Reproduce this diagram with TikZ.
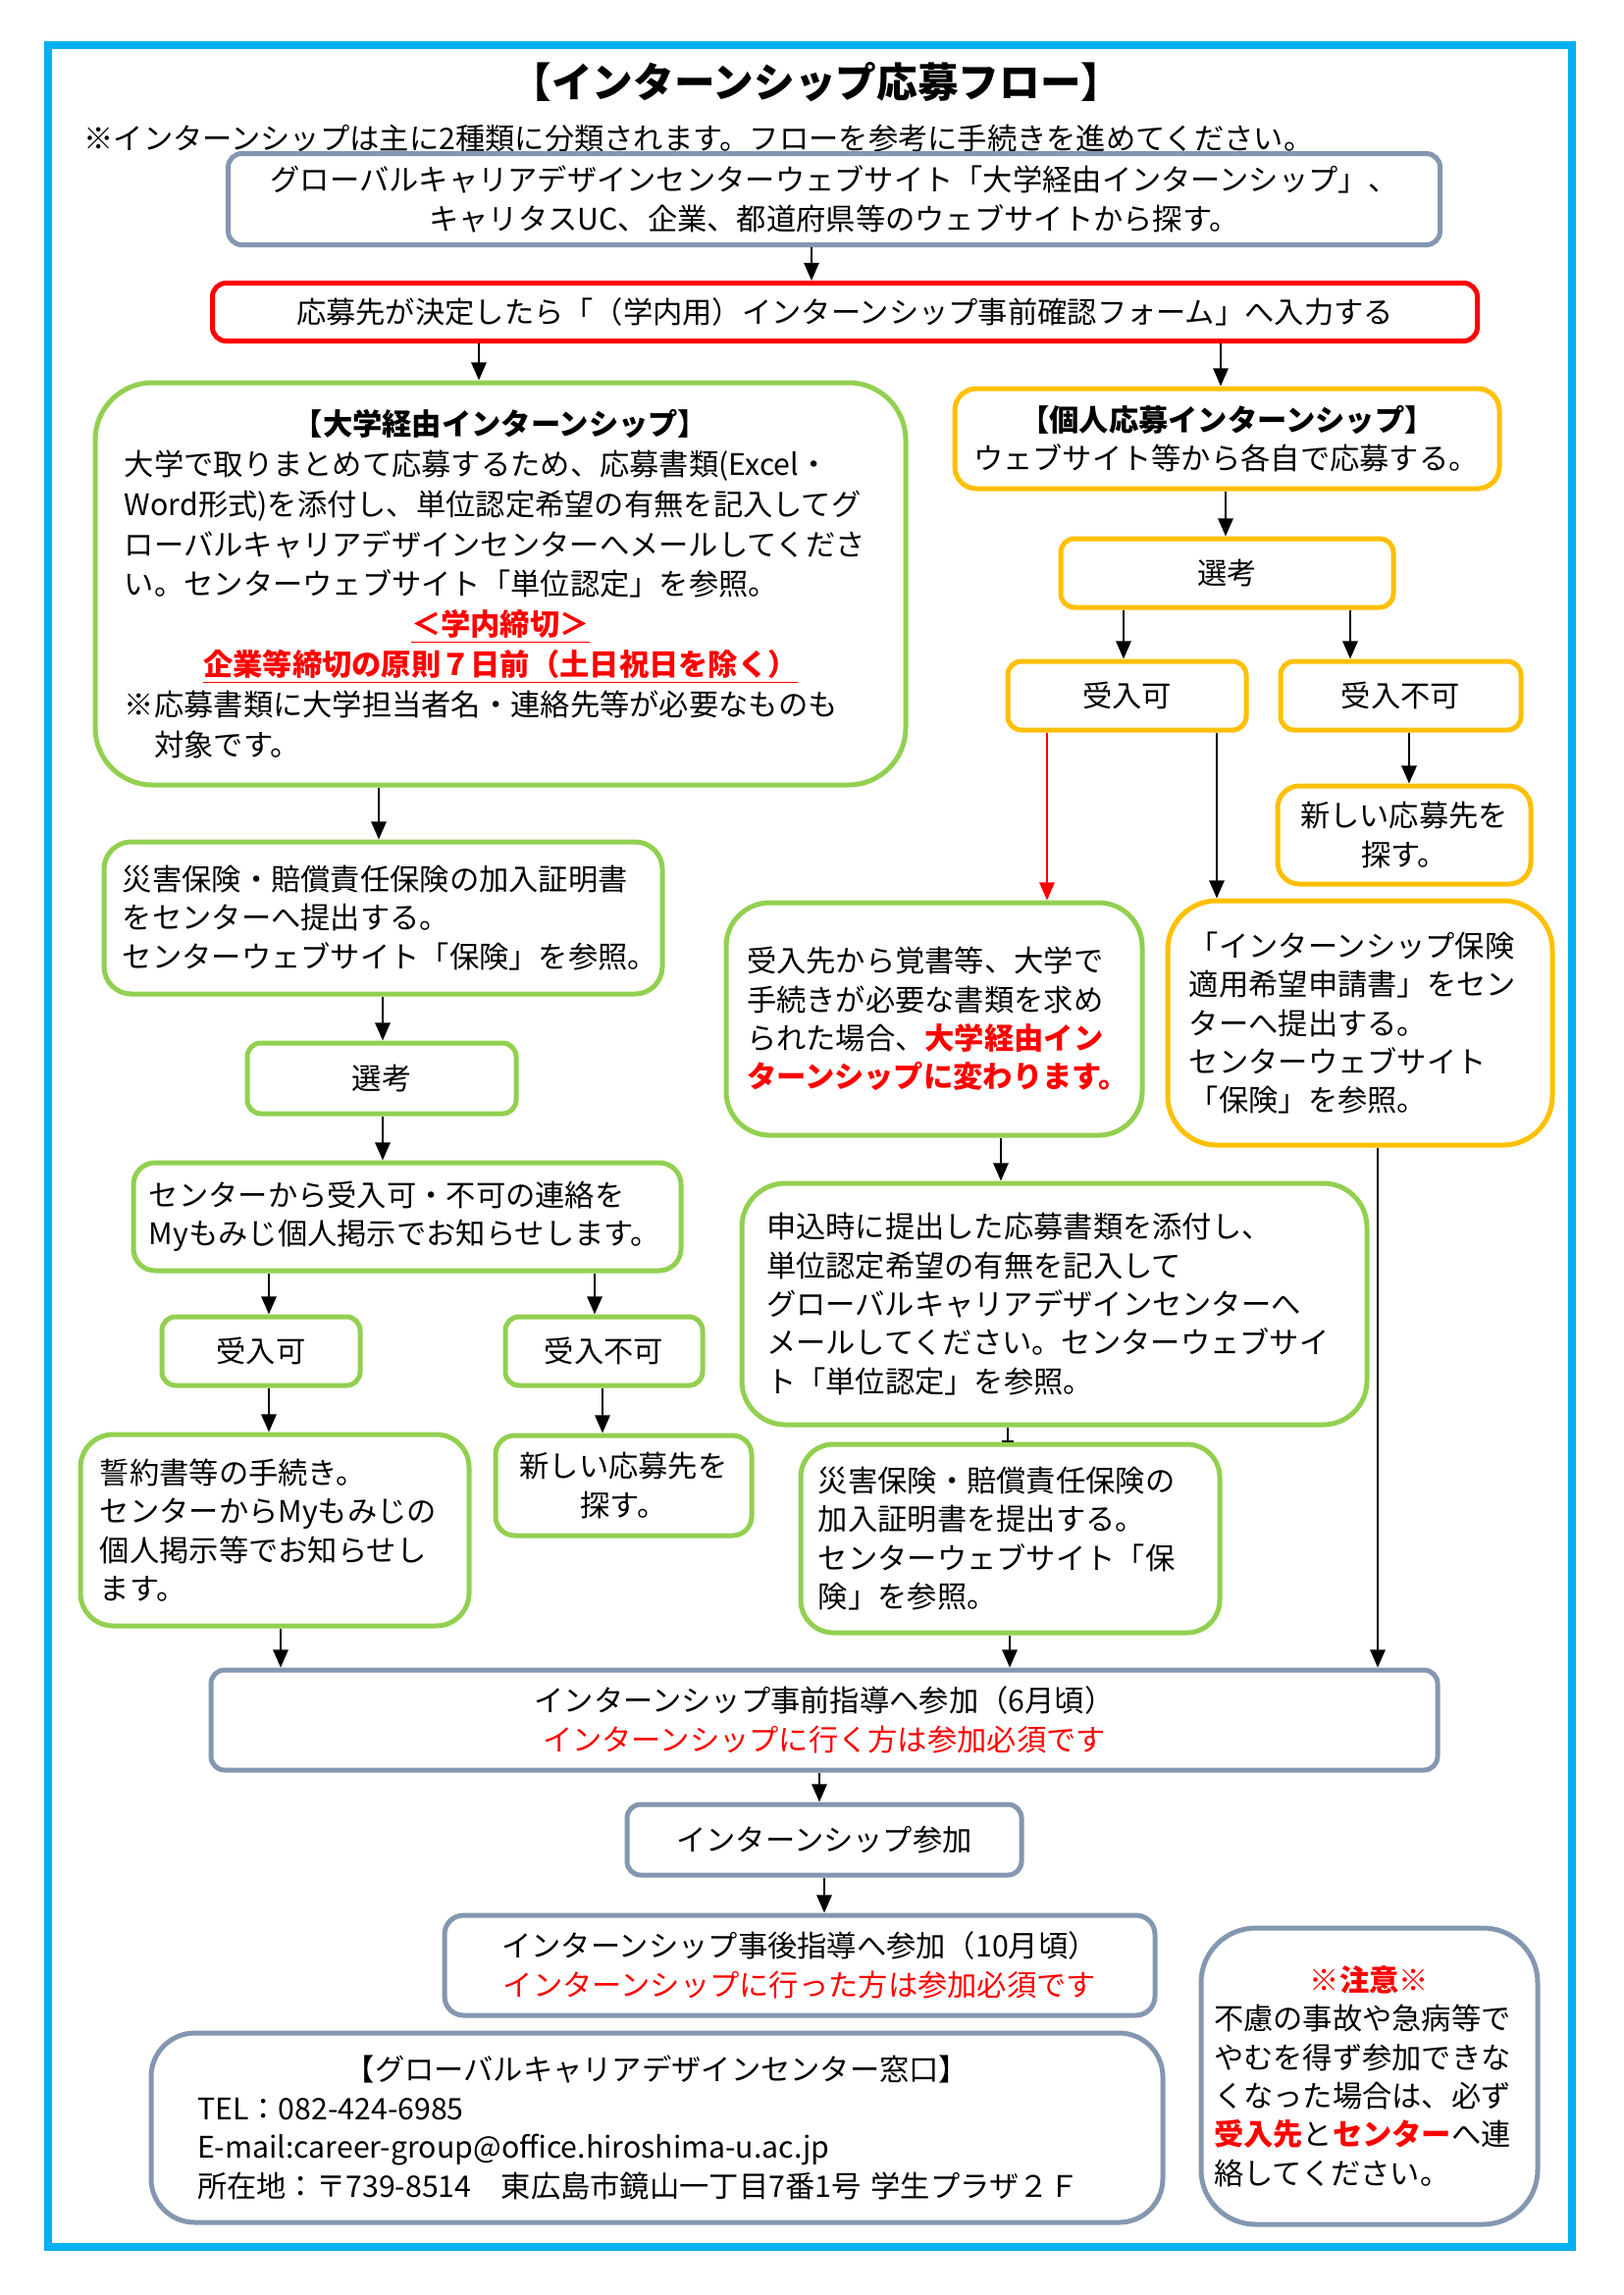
\documentclass[tikz,border=0pt]{standalone}
\usepackage{fontspec}
\setmainfont{Noto Sans CJK JP}
\usetikzlibrary{arrows.meta}
\definecolor{cblue}{HTML}{00B0F0}
\definecolor{cgreen}{HTML}{92D050}
\definecolor{cyellow}{HTML}{FFC000}
\definecolor{cgray}{HTML}{8497B0}
\definecolor{cred}{HTML}{FF0000}
\tikzset{
    outerframe/.style = {draw=cblue,
                    line width=3.2pt},
    boxbase/.style = {rectangle,
                    rounded corners=5pt,
                    fill=white,
                    text=black,
                    line width=1.8pt,
                    inner sep=0pt,
                    font=\fontsize{10.9pt}{14.2pt}\selectfont},
    gbox/.style =   {boxbase, draw=cgreen},
    ybox/.style =   {boxbase, draw=cyellow},
    bbox/.style =   {boxbase, draw=cgray},
    rbox/.style =   {boxbase, draw=cred},
    sz/.style 2 args = {minimum width=#1*0.36pt,
                    minimum height=#2*0.36pt},
    lft/.style =    {align=left, text width=#1},
    ctr/.style =    {align=center},
    ttl/.style =    {inner sep=0pt,
                    font=\fontsize{15pt}{18pt}\selectfont\bfseries},
    notetxt/.style = {inner sep=0pt,
                    anchor=west,
                    font=\fontsize{10.9pt}{14.2pt}\selectfont},
    -,
    arr/.style =    {-{Triangle[width=5.5pt,length=6.5pt]},
                    line width=0.7pt},
    bararr/.style = {-{Bar[width=4.5pt]},
                    line width=0.7pt}}

\begin{document}
\begin{tikzpicture}[x=0.36pt,y=-0.36pt]
\useasboundingbox (0,0) rectangle (1654,2339);
\draw[outerframe] (49,46) rectangle (1602,2290);

\node[ttl]      (title) at (832,84)     {【インターンシップ応募フロー】};
\node[notetxt]  (chuki) at (85,141)     {※インターンシップは主に2種類に分類されます。フローを参考に手続きを進めてください。};

\node[bbox, sz={1235}{93}, ctr]     (sagasu)  at (850,203)  {グローバルキャリアデザインセンターウェブサイト「大学経由インターンシップ」、\\キャリタスUC、企業、都道府県等のウェブサイトから探す。};
\node[rbox, sz={1289}{59}, ctr]     (kakunin) at (861,318)  {応募先が決定したら「（学内用）インターンシップ事前確認フォーム」へ入力する};

\node[gbox, sz={826}{410}, lft=275.8pt, rounded corners=21pt, font=\fontsize{10.9pt}{14.7pt}\selectfont] (daigaku) at (510,595) {%
\centerline{\bfseries 【大学経由インターンシップ】}\par
大学で取りまとめて応募するため、応募書類(Excel・\\
Word形式)を添付し、単位認定希望の有無を記入してグ\\
ローバルキャリアデザインセンターへメールしてくださ\\
い。センターウェブサイト「単位認定」を参照。\par
\centerline{\color{cred}\bfseries\underline{＜学内締切＞}}\par
\centerline{\color{cred}\bfseries\underline{企業等締切の原則７日前（土日祝日を除く）}}\par
※応募書類に大学担当者名・連絡先等が必要なものも\\
\hspace*{1em}対象です。};

\node[gbox, sz={569}{155}, lft=191.2pt, rounded corners=10pt] (hokenA) at (390.5,935.5) {災害保険・賠償責任保険の加入証明書\\をセンターへ提出する。\\センターウェブサイト「保険」を参照。};
\node[gbox, sz={274}{72}, ctr]      (senkoA)  at (389,1099) {選考};
\node[gbox, sz={558}{110}, lft=189.4pt, rounded corners=8pt] (renraku) at (415,1240) {センターから受入可・不可の連絡を\\Myもみじ個人掲示でお知らせします。};
\node[gbox, sz={202}{70}, ctr]      (kaA)     at (266,1377) {受入可};
\node[gbox, sz={201}{70}, ctr]      (fukaA)   at (615.5,1377) {受入不可};
\node[gbox, sz={396}{195}, lft=128.2pt, rounded corners=12pt] (seiyaku) at (280,1559.5) {誓約書等の手続き。\\センターからMyもみじの\\個人掲示等でお知らせし\\ます。};
\node[gbox, sz={261}{102}, ctr, rounded corners=7pt] (sagasuA) at (635.5,1514) {新しい応募先を\\探す。};

\node[ybox, sz={555}{102}, lft=186.1pt, rounded corners=8pt] (kojin) at (1250.5,447) {%
\centerline{\bfseries 【個人応募インターンシップ】}\par
ウェブサイト等から各自で応募する。};
\node[ybox, sz={339}{70}, ctr]      (senkoB)  at (1250.5,584) {選考};
\node[ybox, sz={243}{70}, ctr]      (kaB)     at (1148.5,709) {受入可};
\node[ybox, sz={245}{70}, ctr]      (fukaB)   at (1427.5,709) {受入不可};
\node[ybox, sz={258}{100}, ctr, rounded corners=8pt] (sagasuB) at (1431,851) {新しい応募先を\\探す。};

\node[gbox, sz={424}{237}, lft=137.5pt, rounded corners=16pt] (oboegaki) at (952,1038.5) {受入先から覚書等、大学で\\手続きが必要な書類を求め\\られた場合、{\color{cred}\bfseries 大学経由イン}\\{\color{cred}\bfseries ターンシップに変わります。}};
\node[ybox, sz={392}{249}, lft=125.3pt, rounded corners=18pt] (hokenR) at (1386,1042.5) {「インターンシップ保険\\適用希望申請書」をセン\\ターへ提出する。\\センターウェブサイト\\「保険」を参照。};
\node[gbox, sz={637}{246}, lft=211.3pt, rounded corners=16pt] (moushikomi) at (1074.5,1329) {申込時に提出した応募書類を添付し、\\単位認定希望の有無を記入して\\グローバルキャリアデザインセンターへ\\メールしてください。センターウェブサイ\\ト「単位認定」を参照。};
\node[gbox, sz={427}{192}, lft=140.8pt, rounded corners=12pt] (hokenB) at (1029.5,1568) {災害保険・賠償責任保険の\\加入証明書を提出する。\\センターウェブサイト「保\\険」を参照。};

\node[bbox, sz={1250}{102}, ctr]    (jizen)   at (840,1753) {インターンシップ事前指導へ参加（6月頃）\\{\color{cred}インターンシップに行く方は参加必須です}};
\node[bbox, sz={402}{72}, ctr]      (sanka)   at (840,1875) {インターンシップ参加};
\node[bbox, sz={724}{102}, ctr, rounded corners=7pt] (jigo) at (815,2003) {インターンシップ事後指導へ参加（10月頃）\\{\color{cred}インターンシップに行った方は参加必須です}};
\node[bbox, sz={1031}{193}, lft=337.3pt, rounded corners=16pt] (madoguchi) at (669.5,2168.5) {%
\centerline{【グローバルキャリアデザインセンター窓口】}\par
TEL：082-424-6985\\
E-mail:career-group@office.hiroshima-u.ac.jp\\
所在地：〒739-8514\quad 東広島市鏡山一丁目7番1号 学生プラザ２Ｆ};
\node[bbox, sz={343}{302}, lft=114.1pt, rounded corners=20pt] (chui) at (1395.5,2116) {%
\centerline{\color{cred}\bfseries ※注意※}\par
不慮の事故や急病等で\\やむを得ず参加できな\\くなった場合は、必ず\\{\color{cred}\bfseries 受入先}と{\color{cred}\bfseries センター}へ連\\絡してください。};

\path [arr] (sagasu.south -| 827,0)    edge (kakunin.north -| 827,0)
            (kakunin.south -| 488,0)   edge (daigaku.north -| 488,0)
            (kakunin.south -| 1244,0)  edge (kojin.north -| 1244,0)
            (daigaku.south -| 386,0)   edge (hokenA.north -| 386,0)
            (hokenA.south -| 390,0)    edge (senkoA.north -| 390,0)
            (senkoA.south -| 390,0)    edge (renraku.north -| 390,0)
            (renraku.south -| 274,0)   edge (kaA.north -| 274,0)
            (renraku.south -| 606,0)   edge (fukaA.north -| 606,0)
            (kaA.south -| 274,0)       edge (seiyaku.north -| 274,0)
            (fukaA.south -| 614,0)     edge (sagasuA.north -| 614,0)
            (seiyaku.south -| 286,0)   edge (jizen.north -| 286,0)
            (kojin.south -| 1249,0)    edge (senkoB.north -| 1249,0)
            (senkoB.south -| 1145,0)   edge (kaB.north -| 1145,0)
            (senkoB.south -| 1376,0)   edge (fukaB.north -| 1376,0)
            (fukaB.south -| 1436,0)    edge (sagasuB.north -| 1436,0)
            (kaB.south -| 1240,0)      edge (hokenR.north -| 1240,0)
            (oboegaki.south -| 1020,0) edge (moushikomi.north -| 1020,0)
            (hokenB.south -| 1029,0)   edge (jizen.north -| 1029,0)
            (hokenR.south -| 1404,0)   edge (jizen.north -| 1404,0)
            (jizen.south -| 835,0)     edge (sanka.north -| 835,0)
            (sanka.south -| 840,0)     edge (jigo.north -| 840,0);
\draw [arr, cred] (kaB.south -| 1067,0) -- (oboegaki.north -| 1067,0);
\draw [bararr] (moushikomi.south -| 1027,0) -- (hokenB.north -| 1027,0);
\end{tikzpicture}
\end{document}
